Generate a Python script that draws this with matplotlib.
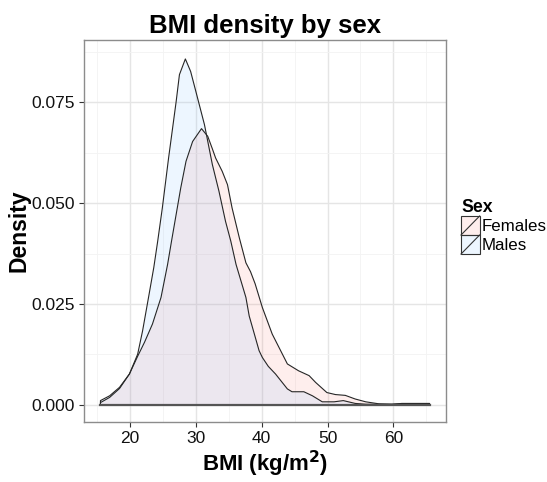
import numpy as np
import matplotlib.pyplot as plt
from matplotlib.patches import Patch, Rectangle
from matplotlib.lines import Line2D
from matplotlib.legend_handler import HandlerBase

plt.rcParams['font.family'] = ['Liberation Sans', 'DejaVu Sans']

# density curves
bmi_m = [15.5, 16.9, 18.4, 19.9, 21.15, 21.9, 22.9, 23.6, 24.2, 24.9, 25.85, 27.0,
         27.5, 28.4, 29.2, 30.0, 31.3, 32.5, 33.5, 34.5, 35.3, 36.1, 37.6, 38.1,
         38.8, 39.6, 40.1, 41.0, 42.1, 43.9, 44.6, 46.4, 47.7, 49.2, 51.0, 52.4,
         54.2, 55.8, 57.8, 59.8, 61.3, 65.5]
dens_m = [0.0010, 0.0022, 0.0043, 0.0076, 0.0125, 0.0183, 0.0275, 0.0340, 0.0406,
          0.0488, 0.0612, 0.0752, 0.0819, 0.0858, 0.0827, 0.0777, 0.0695, 0.0596,
          0.0530, 0.0455, 0.0406, 0.0348, 0.0266, 0.0220, 0.0180, 0.0134, 0.0117,
          0.0095, 0.0076, 0.0039, 0.0032, 0.0032, 0.0022, 0.0007, 0.0007, 0.0010,
          0.0003, 0.0001, 0.0001, 0.0001, 0.0002, 0.0002]

bmi_f = [15.5, 16.9, 18.4, 19.9, 21.15, 22.2, 23.4, 24.7, 25.7, 26.3, 27.0, 27.7,
         28.5, 29.5, 30.85, 31.8, 32.5, 33.0, 34.0, 34.8, 35.5, 36.6, 37.6, 38.3,
         39.0, 40.1, 41.6, 43.9, 45.6, 47.2, 48.2, 49.9, 51.2, 52.7, 54.2, 55.8,
         57.8, 59.8, 61.3, 65.5]
dens_f = [0.0005, 0.0018, 0.0040, 0.0076, 0.0120, 0.0155, 0.0200, 0.0266, 0.0348,
          0.0406, 0.0472, 0.0538, 0.0604, 0.0653, 0.0685, 0.0666, 0.0635, 0.0612,
          0.0579, 0.0546, 0.0488, 0.0414, 0.0352, 0.0330, 0.0300, 0.0241, 0.0175,
          0.0101, 0.0084, 0.0072, 0.0055, 0.0030, 0.0025, 0.0023, 0.0014, 0.0007,
          0.0002, 0.0001, 0.0003, 0.0003]

xticks = [20, 30, 40, 50, 60]
yticks = [0.0, 0.025, 0.05, 0.075]
ytick_labels = ["0.000", "0.025", "0.050", "0.075"]

col_f = (0.973, 0.463, 0.427, 0.12)
col_m = (0.48, 0.74, 1.0, 0.13)
edge = "#262626"


class KeyHandler(HandlerBase):
    def create_artists(self, legend, orig_handle, xdescent, ydescent, width, height, fontsize, trans):
        r = Rectangle((-xdescent, -ydescent), width, height, facecolor=orig_handle.get_facecolor(),
                      edgecolor="#333333", lw=0.8, transform=trans)
        l = Line2D([-xdescent, -xdescent + width], [-ydescent, -ydescent + height],
                   color="#333333", lw=0.8, transform=trans)
        return [r, l]


fig = plt.figure(figsize=(5.47, 4.82), dpi=100)
ax = fig.add_axes([84/547, 1 - 422/482, 362/547, 382/482])

for xs, ys, c in [(bmi_f, dens_f, col_f), (bmi_m, dens_m, col_m)]:
    xs = np.array(xs)
    ys = np.array(ys)
    ax.fill_between(xs, 0, ys, color=c, lw=0, zorder=2)
    ax.plot(np.r_[xs[0], xs, xs[-1], xs[0]], np.r_[0, ys, 0, 0], color=edge, lw=0.8, zorder=3)
ax.plot([bmi_m[0], bmi_m[-1]], [0, 0], color="#555555", lw=1.6, zorder=3)

ax.set_xlim(13, 68)
ax.set_ylim(-0.00431, 0.0905)
ax.set_xticks(xticks)
ax.set_yticks(yticks)
ax.set_yticklabels(ytick_labels)
ax.set_xticks([15, 25, 35, 45, 55, 65], minor=True)
ax.set_yticks([0.0125, 0.0375, 0.0625, 0.0875], minor=True)
ax.grid(True, which="major", color="#E5E5E5", lw=1.0, zorder=0)
ax.grid(True, which="minor", color="#F3F3F3", lw=0.6, zorder=0)
ax.set_axisbelow(True)
ax.tick_params(which="major", length=3.5, width=0.8, color="#333333", labelsize=12.5,
               labelcolor="#111111", pad=3)
ax.tick_params(which="minor", length=0)
for s in ax.spines.values():
    s.set_color("#8C8C8C")
    s.set_linewidth(1.0)

ax.set_title("BMI density by sex", fontsize=18.5, fontweight="bold", pad=5)
ax.set_xlabel("BMI (kg/m$\\mathbf{^2}$)", fontsize=16, fontweight="bold", labelpad=2)
ax.set_ylabel("Density", fontsize=16.5, fontweight="bold", labelpad=1)

handles = [Patch(facecolor=col_f), Patch(facecolor=col_m)]
leg = fig.legend(handles, ["Females", "Males"], title="Sex", loc="upper left",
                 bbox_to_anchor=(461/547, 1 - 199/482), frameon=False, fontsize=12.2,
                 handler_map={Patch: KeyHandler()}, handlelength=1.1, handleheight=1.35,
                 handletextpad=0.1, labelspacing=0.0, borderpad=0, borderaxespad=0)
leg.get_title().set_fontweight("bold")
leg.get_title().set_fontsize(12.7)
leg._legend_box.align = "left"

fig.savefig("out.png", dpi=100)
